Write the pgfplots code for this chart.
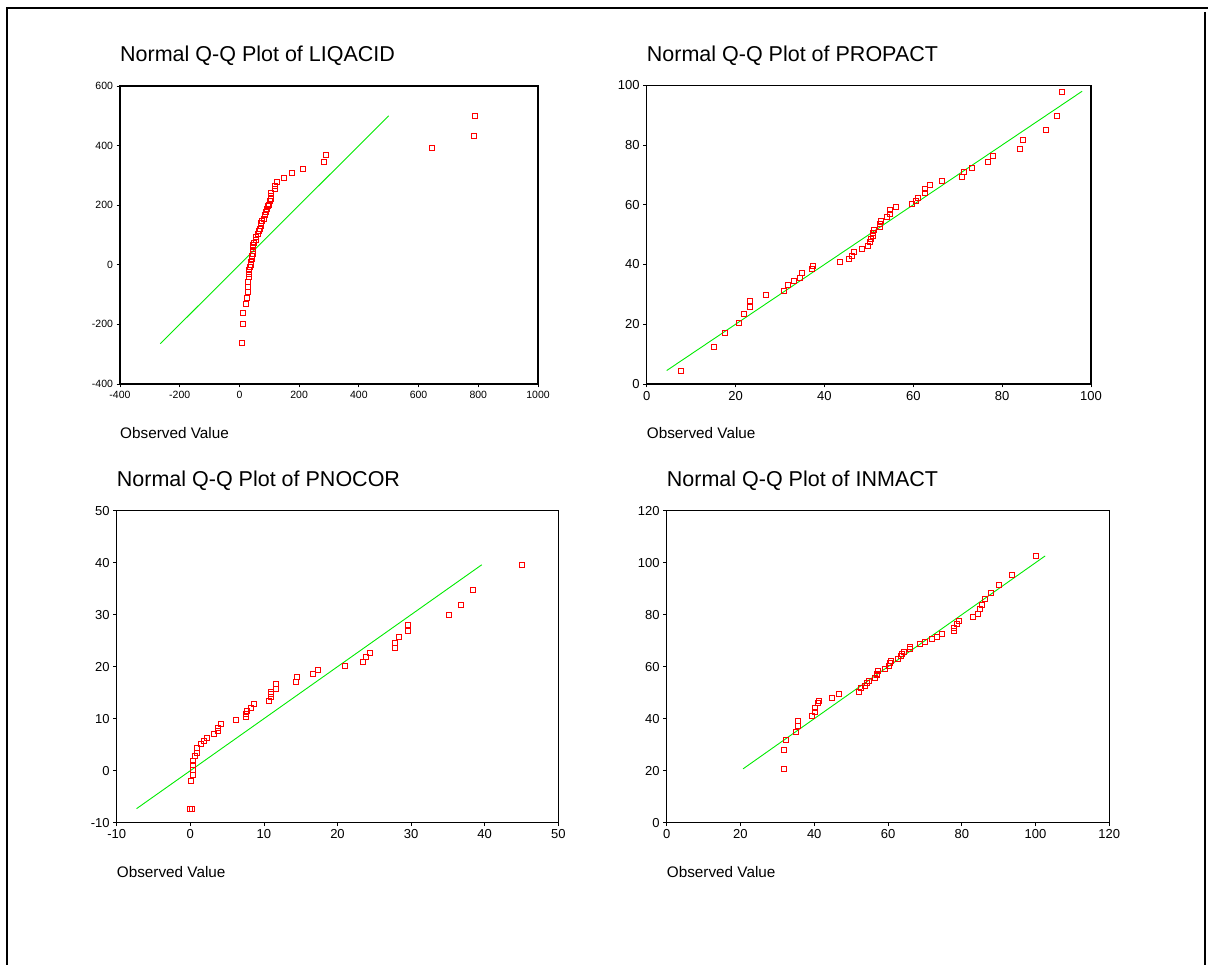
\documentclass[border=0pt]{standalone}
\usepackage{fontspec}
\setmainfont{Liberation Sans}
\usepackage{pgfplots}
\pgfplotsset{compat=1.18}

\definecolor{qqred}{RGB}{255,0,0}
\definecolor{qqgreen}{RGB}{0,235,0}

\pgfplotsset{
  qqpanel/.style={
    scale only axis,
    axis line style={black,line width=1.1pt},
    tick align=outside,
    xtick pos=bottom, ytick pos=left,
    major tick length=3.5pt,
    tick style={black,line width=0.8pt},
    /pgf/number format/assume math mode=true,
    /pgf/number format/1000 sep={},
    title style={at={(0,1)},anchor=base west,inner sep=0pt,yshift=18pt,
      font=\fontsize{21.5}{26}\selectfont},
    xlabel style={at={(0,0)},anchor=base west,inner sep=0pt,yshift=-55pt,
      font=\fontsize{15.3}{18}\selectfont},
    xlabel={Observed Value},
    tick label style={font=\fontsize{13}{15}\selectfont},
  },
  pts/.style={only marks,mark=square,mark size=2.5pt,
    mark options={draw=qqred,line width=0.9pt},qqred},
  fit/.style={qqgreen,line width=0.9pt,no marks},
}

\begin{document}
\begin{tikzpicture}
\path[use as bounding box] (0pt,0pt) rectangle (1208pt,965pt);
\draw[black,line width=1.6pt] (7pt,0pt) -- (7pt,957pt) -- (1208pt,957pt);
\draw[black,line width=1.6pt] (1205pt,953pt) -- (1205pt,0pt);

% LIQACID
\begin{axis}[qqpanel,at={(120pt,581pt)},anchor=south west,
  width=418pt,height=298pt,
  xmin=-400,xmax=1000,ymin=-400,ymax=600,
  xtick={-400,-200,...,1000},ytick={-400,-200,...,600},
  tick label style={font=\fontsize{10.5}{12}\selectfont},
  title={Normal Q-Q Plot of LIQACID}]
\addplot[fit] coordinates {(-265,-265) (500,500)};
\addplot[pts] coordinates {
(8,-263) (11,-198) (11,-161) (22,-131) (26,-110) (30,-91) (30,-73) (30,-58)
(33,-42) (33,-30) (33,-19) (34,-8) (37,0) (40,8) (41,20) (43,28) (44,38)
(44,48) (44,59) (46,67) (50,74) (55,83) (56,94) (63,103) (66,112) (69,121)
(71,131) (71,139) (77,148) (81,154) (87,166) (89,176) (92,186) (95,197)
(98,201) (103,213) (107,221) (107,230) (107,241) (118,253) (118,264)
(125,278) (150,293) (177,308) (213,322) (282,344) (290,367) (645,391)
(784,432) (788,498)};
\end{axis}

% PROPACT
\begin{axis}[qqpanel,at={(646.7pt,581pt)},anchor=south west,
  width=444.3pt,height=298.7pt,
  xmin=0,xmax=100,ymin=0,ymax=100,
  xtick={0,20,...,100},ytick={0,20,...,100},
  title={Normal Q-Q Plot of PROPACT}]
\addplot[fit] coordinates {(4.5,4.5) (98,98)};
\addplot[pts] coordinates {
(7.8,4.4) (15.2,12.4) (17.7,17.2) (20.8,20.5) (21.8,23.4) (23.2,25.7)
(23.2,27.9) (26.8,29.7) (30.9,31.3) (31.7,33.0) (33.1,34.5) (34.6,35.5)
(34.9,37.2) (37.1,38.5) (37.4,39.6) (43.4,40.7) (45.5,41.9) (46.3,43.0)
(46.6,44.1) (48.4,45.2) (49.9,46.3) (50.2,47.4) (50.4,48.4) (50.9,49.7)
(50.9,50.7) (51.2,51.7) (52.4,52.6) (52.4,53.6) (52.7,54.7) (54.0,55.9)
(54.8,56.9) (54.8,58.1) (56.1,59.2) (59.8,60.3) (60.5,61.3) (61.1,62.4)
(62.6,64.0) (62.6,65.2) (63.7,66.5) (66.5,68.0) (70.9,69.4) (71.4,71.0)
(73.3,72.4) (76.7,74.2) (77.9,76.5) (83.9,78.7) (84.7,81.6) (89.9,84.9)
(92.3,89.7) (93.5,97.8)};
\end{axis}

% PNOCOR
\begin{axis}[qqpanel,at={(116.7pt,142.3pt)},anchor=south west,
  width=441.6pt,height=312pt,
  xmin=-10,xmax=50,ymin=-10,ymax=50,
  xtick={-10,0,...,50},ytick={-10,0,...,50},
  title={Normal Q-Q Plot of PNOCOR}]
\addplot[fit] coordinates {(-7.3,-7.3) (39.6,39.6)};
\addplot[pts] coordinates {
(0.0,-7.3) (0.2,-7.3) (0.1,-2.0) (0.3,-0.9) (0.3,0.2) (0.4,1.1) (0.4,1.9)
(0.6,2.8) (0.9,3.5) (0.9,4.4) (1.4,5.1) (1.9,5.7) (2.3,6.3) (3.2,7.1)
(3.7,7.7) (3.7,8.3) (4.2,9.0) (6.2,9.7) (7.5,10.3) (7.5,11.0) (7.7,11.5)
(8.2,12.1) (8.7,12.8) (10.7,13.5) (11.0,14.1) (11.0,14.7) (11.0,15.2)
(11.7,15.8) (11.7,16.6) (14.3,17.1) (14.5,18.0) (16.7,18.7) (17.4,19.4)
(21.0,20.2) (23.4,20.9) (23.8,21.8) (24.4,22.6) (27.8,23.6) (27.8,24.6)
(28.3,25.8) (29.6,26.9) (29.6,28.1) (35.1,29.9) (36.8,31.9) (38.4,34.7)
(45.0,39.6)};
\end{axis}

% INMACT
\begin{axis}[qqpanel,at={(666.7pt,142.3pt)},anchor=south west,
  width=442.6pt,height=312pt,
  xmin=0,xmax=120,ymin=0,ymax=120,
  xtick={0,20,...,120},ytick={0,20,...,120},
  title={Normal Q-Q Plot of INMACT}]
\addplot[fit] coordinates {(20.7,20.7) (102.6,102.6)};
\addplot[pts] coordinates {
(31.9,20.8) (31.9,27.8) (32.2,31.8) (35.0,34.9) (35.6,37.4) (35.6,39.2)
(39.4,41.0) (40.3,42.7) (40.3,44.1) (41.1,45.9) (41.2,46.8) (44.7,48.1)
(46.6,49.5) (52.1,50.3) (52.6,51.7) (53.8,52.7) (54.2,53.8) (54.7,54.7)
(56.5,55.6) (56.9,56.7) (57.1,57.4) (57.4,58.5) (59.3,59.2) (60.3,60.4)
(60.5,61.3) (60.8,62.2) (62.6,63.1) (63.4,64.0) (63.7,64.9) (64.2,65.8)
(65.9,66.7) (65.9,67.7) (68.6,68.8) (70.1,69.7) (71.8,70.6) (73.3,71.5)
(74.5,72.7) (77.9,73.6) (77.9,74.9) (78.6,76.3) (79.1,77.7) (82.9,79.0)
(84.5,80.3) (85.0,82.1) (85.4,83.8) (86.4,86.0) (87.9,88.2) (90.1,91.3)
(93.5,95.3) (100.0,102.7)};
\end{axis}
\end{tikzpicture}
\end{document}
